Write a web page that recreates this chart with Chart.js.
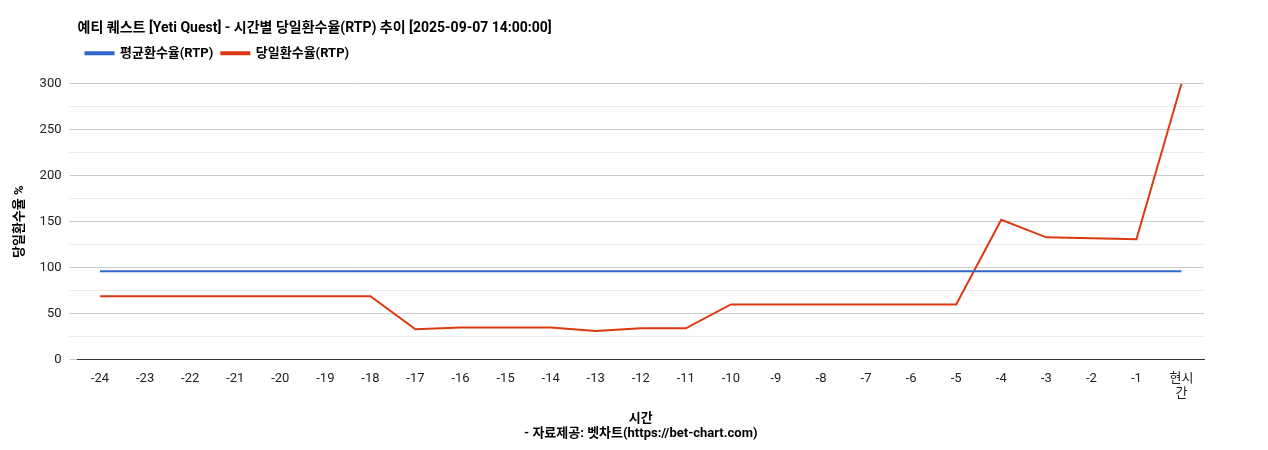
<!DOCTYPE html>
<html><head><meta charset="utf-8">
<script src="https://cdn.jsdelivr.net/npm/chart.js@4"></script>
<style>body{margin:0;background:#fff}#w{width:1268px;height:450px}</style>
</head><body><div id="w"><canvas id="c"></canvas></div>
<script>
const categories=['-24','-23','-22','-21','-20','-19','-18','-17','-16','-15','-14','-13','-12','-11','-10','-9','-8','-7','-6','-5','-4','-3','-2','-1',['현시','간']];
const avgRTP=[96,96,96,96,96,96,96,96,96,96,96,96,96,96,96,96,96,96,96,96,96,96,96,96,96];
const dayRTP=[69,69,69,69,69,69,69,33,35,35,35,31,34,34,60,60,60,60,60,60,152,133,132,131,300];
const F="Roboto, 'Noto Sans CJK KR', sans-serif";
Chart.defaults.font.family=F;Chart.defaults.color='#222';
const legendGap={id:'lg',beforeInit(chart){const l=chart.legend;const f=l.fit;l.fit=function(){f.call(this);this.height+=14;};}};
new Chart(document.getElementById('c'),{type:'line',plugins:[legendGap],
data:{labels:categories,datasets:[
{label:'평균환수율(RTP)',data:avgRTP,borderColor:'#3366cc',backgroundColor:'#3366cc',borderWidth:2,pointRadius:0,tension:0},
{label:'당일환수율(RTP)',data:dayRTP,borderColor:'#dc3912',backgroundColor:'#dc3912',borderWidth:2,pointRadius:0,tension:0}]},
options:{responsive:true,maintainAspectRatio:false,animation:false,
layout:{padding:{left:8,right:64,top:20,bottom:4}},
plugins:{title:{display:true,fullSize:false,text:'예티 퀘스트 [Yeti Quest] - 시간별 당일환수율(RTP) 추이 [2025-09-07 14:00:00]',align:'start',font:{size:14,weight:'bold'},color:'#000',padding:{top:0,bottom:2}},
legend:{fullSize:false,align:'start',labels:{boxWidth:28,boxHeight:2,font:{size:13,weight:'bold'},color:'#000',padding:8}},tooltip:{enabled:false}},
scales:{x:{offset:true,grid:{display:false},border:{color:'#333'},ticks:{font:{size:13},color:'#222',maxRotation:0,autoSkip:false},
title:{display:true,text:['시간','- 자료제공: 벳차트(https://bet-chart.com)'],font:{size:13,weight:'bold'},color:'#000',padding:{top:6}}},
y:{min:0,max:300,ticks:{stepSize:25,font:{size:13},color:'#222',padding:8,callback:v=>v%50===0?v:''},
grid:{color:c=>c.tick&&c.tick.value%50===0?'#cccccc':'#ebebeb'},border:{display:false},
title:{display:true,text:'당일환수율 %',font:{size:13,weight:'bold'},color:'#000'}}}}});
</script></body></html>
